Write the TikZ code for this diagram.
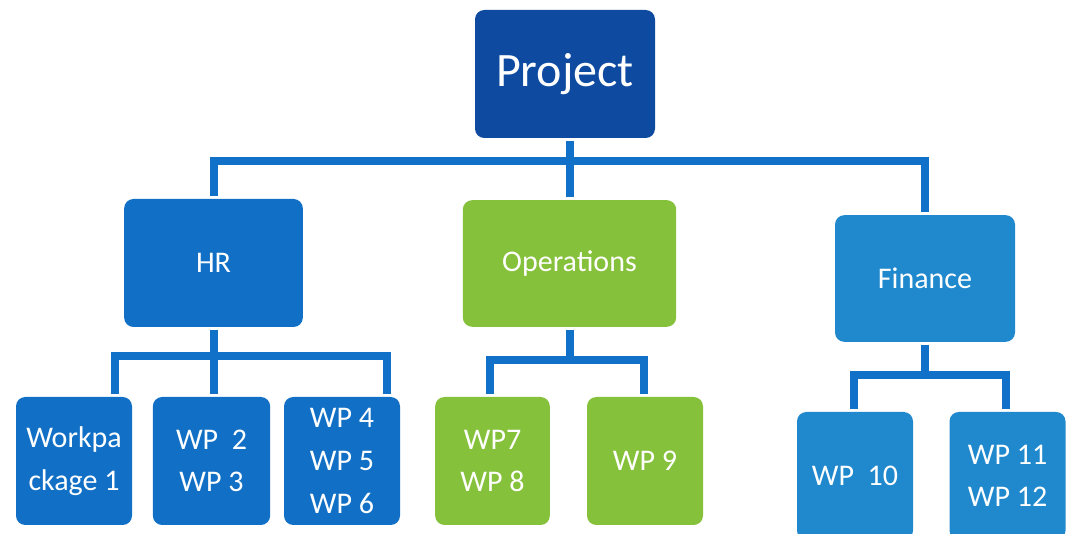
\documentclass[tikz,border=0pt]{standalone}
\usepackage{fontspec}
\setmainfont{Carlito}
\usepackage{tikz}
\usetikzlibrary{calc}

\definecolor{projblue}{HTML}{0D4AA0}
\definecolor{hrblue}{HTML}{1170C6}
\definecolor{opgreen}{HTML}{85C13B}
\definecolor{finblue}{HTML}{2088CD}
\definecolor{linkblue}{HTML}{1170C8}

\tikzset{
  box/.style={rounded corners=7pt, text=white, align=center, inner sep=0pt,
    font=\fontsize{22.5}{32}\selectfont},
  conn/.style={draw=linkblue, line width=6pt, shorten <=2.2pt, shorten >=2.2pt}
}

\begin{document}
\begin{tikzpicture}[x=0.75pt, y=-0.75pt]
    \useasboundingbox (0,0) rectangle (1068,534);

    % Top level
    \node[box, fill=projblue, minimum width=135pt, minimum height=96pt,
      font=\fontsize{36}{40}\selectfont] (project) at (565,74) {Project};

    % Departments
    \node[box, fill=hrblue, minimum width=134pt, minimum height=96pt] (hr) at (213.5,263) {HR};
    \node[box, fill=opgreen, minimum width=160pt, minimum height=95pt] (ops) at (569.5,263.5) {Operations};
    \node[box, fill=finblue, minimum width=135pt, minimum height=95pt] (fin) at (925,278.5) {Finance};

    % HR work packages
    \node[box, fill=hrblue, minimum width=87pt, minimum height=96pt] (wp1) at (74,461) {Workpa\\ckage 1};
    \node[box, fill=hrblue, minimum width=88pt, minimum height=96pt] (wp2) at (211.5,461) {WP~~2\\WP 3};
    \node[box, fill=hrblue, minimum width=87pt, minimum height=96pt] (wp4) at (342,461) {WP 4\\WP 5\\WP 6};

    % Operations work packages
    \node[box, fill=opgreen, minimum width=86pt, minimum height=96pt] (wp7) at (492.5,461) {WP7\\WP 8};
    \node[box, fill=opgreen, minimum width=87pt, minimum height=96pt] (wp9) at (645,461) {WP 9};

    % Finance work packages
    \node[box, fill=finblue, minimum width=87pt, minimum height=96pt] (wp10) at (855,476) {WP~~10};
    \node[box, fill=finblue, minimum width=87pt, minimum height=96pt] (wp11) at (1007.5,476) {WP 11\\WP 12};

    % Bus lines
    \coordinate (bus) at (570,161);
    \coordinate (hrL) at (115,356);
    \coordinate (hrR) at (387,356);
    \coordinate (opL) at (490,360);
    \coordinate (opR) at (644,360);
    \coordinate (fnL) at (854,375);
    \coordinate (fnR) at (1006,375);

    % Project to departments
    \draw[conn] (bus |- project.south) -- (bus |- ops.north);
    \draw[conn] (hr.north) |- (bus) -| (fin.north);

    % HR to work packages
    \draw[conn] (hr.south) -- (hr.south |- wp2.north);
    \draw[conn] (wp1.north -| hrL) -- (hrL) -- (hrR) -- (wp4.north -| hrR);

    % Operations to work packages
    \draw[conn] (ops.south -| bus) -- (bus |- opL);
    \draw[conn] (wp7.north -| opL) -- (opL) -- (opR) -- (wp9.north -| opR);

    % Finance to work packages
    \draw[conn] (fin.south) -- (fin.south |- fnL);
    \draw[conn] (wp10.north -| fnL) -- (fnL) -- (fnR) -- (wp11.north -| fnR);
\end{tikzpicture}
\end{document}
